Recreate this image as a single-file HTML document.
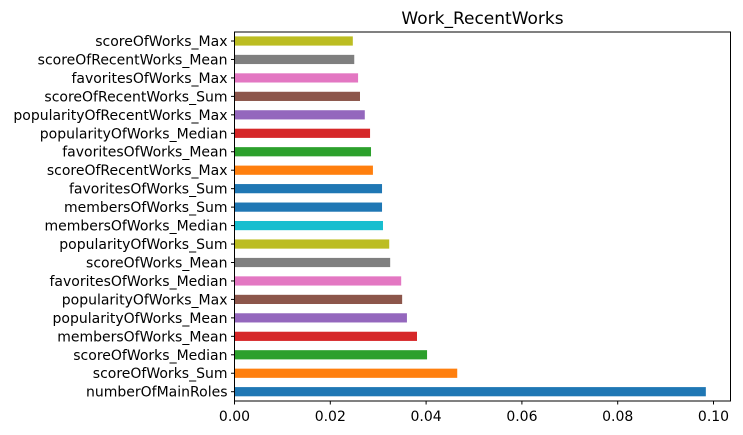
<!DOCTYPE html>
<html><head><meta charset="utf-8"><style>
body{margin:0;background:#fff;}
svg{display:block;font-family:"DejaVu Sans","Liberation Sans",sans-serif;}
</style></head><body>
<svg id="chart" width="743" height="435">
<text x="482.5" y="24" text-anchor="middle" font-size="17" fill="#000">Work_RecentWorks</text>
<g id="bars"></g><g id="yticks"></g><g id="xticks"></g>
<rect x="234.5" y="32" width="496" height="369" fill="none" stroke="#000" stroke-width="1"/>
</svg>
<script>
const categories=["numberOfMainRoles","scoreOfWorks_Sum","scoreOfWorks_Median","membersOfWorks_Mean","popularityOfWorks_Mean","popularityOfWorks_Max","favoritesOfWorks_Median","scoreOfWorks_Mean","popularityOfWorks_Sum","membersOfWorks_Median","membersOfWorks_Sum","favoritesOfWorks_Sum","scoreOfRecentWorks_Max","favoritesOfWorks_Mean","popularityOfWorks_Median","popularityOfRecentWorks_Max","scoreOfRecentWorks_Sum","favoritesOfWorks_Max","scoreOfRecentWorks_Mean","scoreOfWorks_Max"];
const values=[0.0984,0.0465,0.0402,0.0381,0.0360,0.0350,0.0348,0.0325,0.0323,0.0310,0.0308,0.0308,0.0289,0.0285,0.0283,0.0272,0.0262,0.0258,0.0250,0.0247];
const xTicks=[0,0.02,0.04,0.06,0.08,0.10];
const xTickLabels=["0.00","0.02","0.04","0.06","0.08","0.10"];
const colors=["#1f77b4","#ff7f0e","#2ca02c","#d62728","#9467bd","#8c564b","#e377c2","#7f7f7f","#bcbd22","#17becf","#1f77b4","#1f77b4","#ff7f0e","#2ca02c","#d62728","#9467bd","#8c564b","#e377c2","#7f7f7f","#bcbd22"];
const NS="http://www.w3.org/2000/svg";
const x0=234.5,pxPer=4790;
const xs=v=>x0+v*pxPer;
const yBottom=391.7,step=(391.7-41)/19;
const ys=i=>yBottom-i*step;
const bars=document.getElementById('bars'),yt=document.getElementById('yticks'),xt=document.getElementById('xticks');
function mk(t,a){const e=document.createElementNS(NS,t);for(const k in a)e.setAttribute(k,a[k]);return e;}
categories.forEach((c,i)=>{
 const y=ys(i);
 const r=mk('rect',{x:x0,y:y-4.6,width:xs(values[i])-x0,height:9.2,fill:colors[i%colors.length]});
 
 
 bars.appendChild(r);
 const l=mk('line',{x1:x0-3.5,x2:x0,y1:y,y2:y,stroke:'#000'});
 
 
 yt.appendChild(l);
 const t=mk('text',{x:x0-7,y:y+5,'text-anchor':'end','font-size':'14',fill:'#000'});
 t.textContent=c;
 
 
 yt.appendChild(t);
});
xTicks.forEach((v,i)=>{
 const x=xs(v);
 const l=mk('line',{x1:x,x2:x,y1:401,y2:404.5,stroke:'#000'});
 
 
 xt.appendChild(l);
 const t=mk('text',{x:x,y:421,'text-anchor':'middle','font-size':'14',fill:'#000'});
 t.textContent=xTickLabels[i];
 
 
 xt.appendChild(t);
});
</script>
</body></html>
